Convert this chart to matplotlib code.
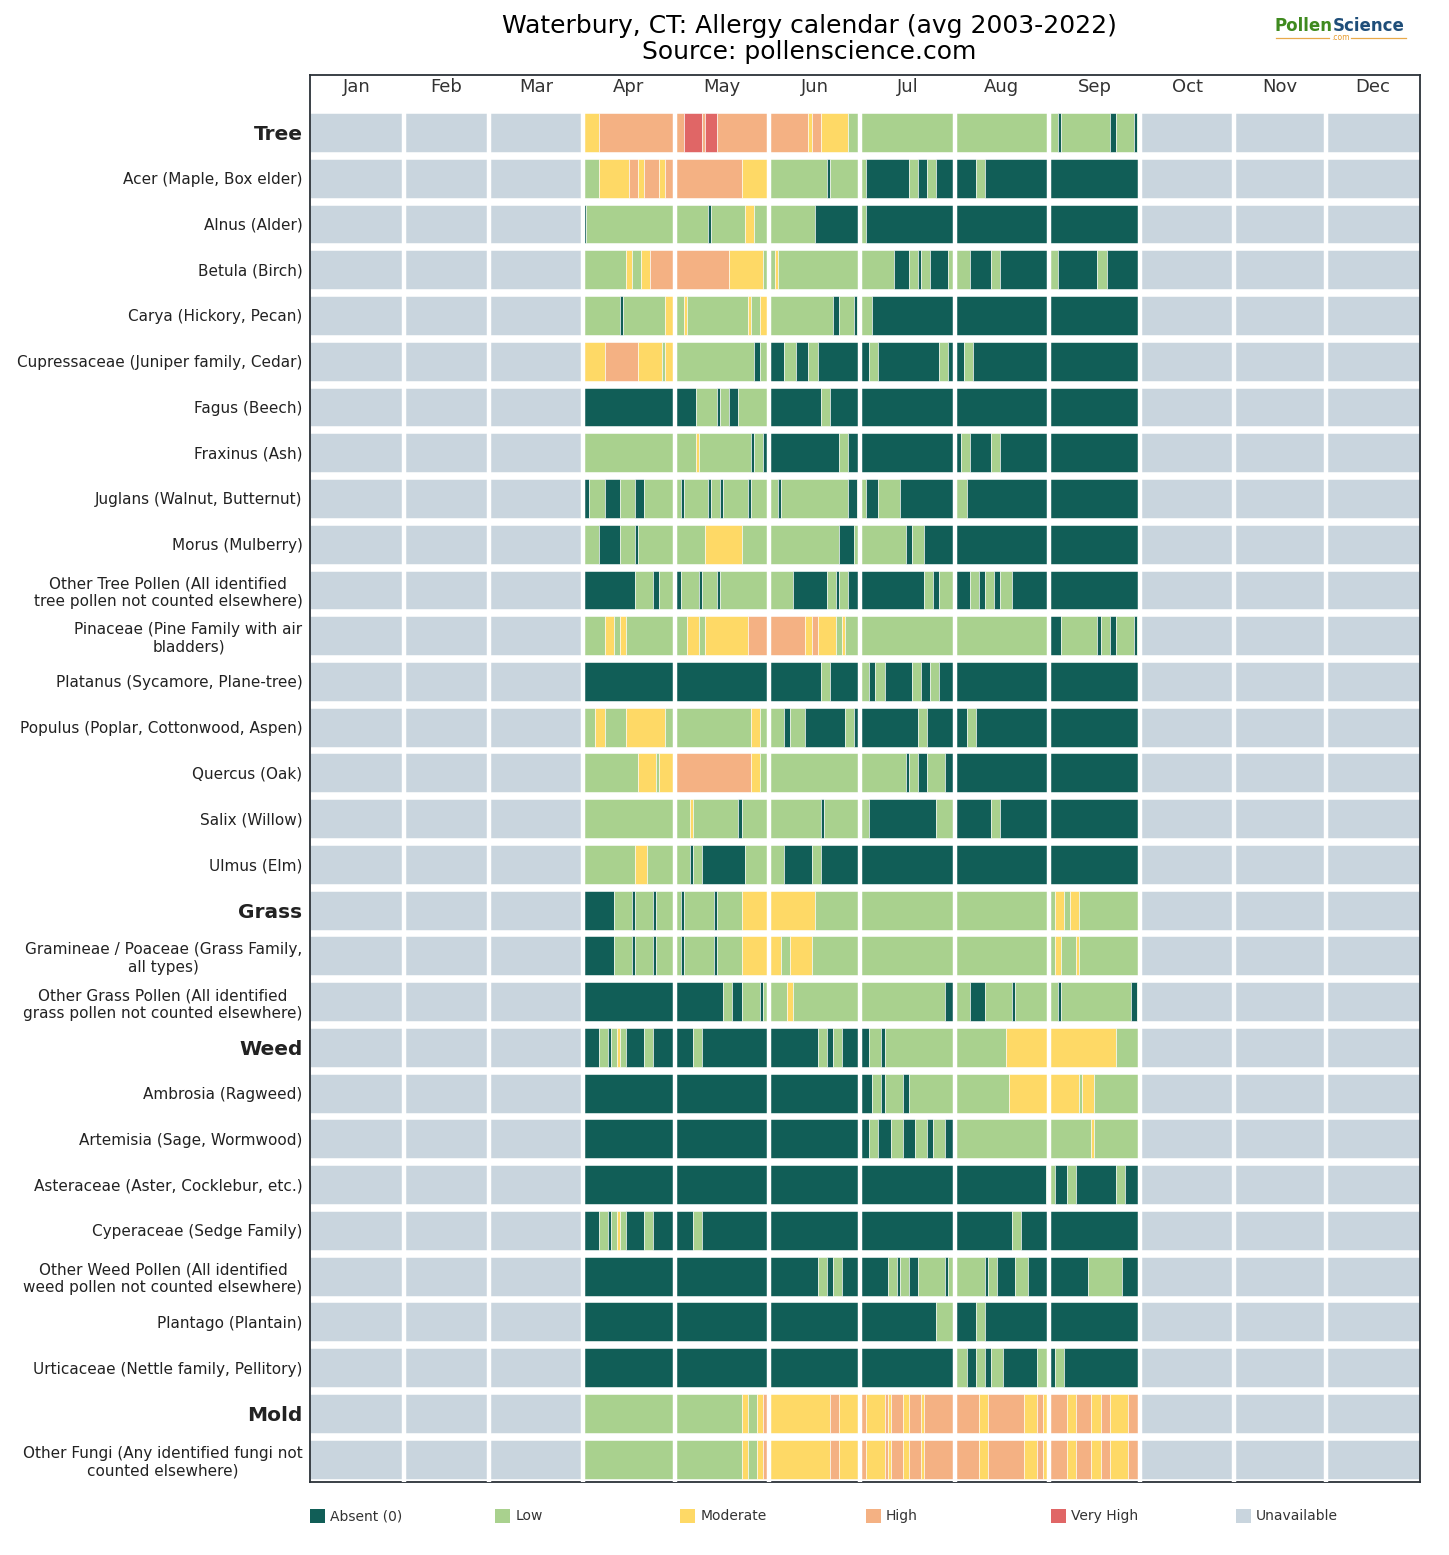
import matplotlib.pyplot as plt
from matplotlib.patches import Rectangle
from matplotlib.lines import Line2D

months = ['Jan', 'Feb', 'Mar', 'Apr', 'May', 'Jun', 'Jul', 'Aug', 'Sep', 'Oct', 'Nov', 'Dec']
month_days = [31, 28, 31, 30, 31, 30, 31, 31, 30, 31, 30, 31]

level_names = ['Absent (0)', 'Low', 'Moderate', 'High', 'Very High', 'Unavailable']
level_colors = ['#115e57', '#a9d18e', '#fed966', '#f4b183', '#e06666', '#c9d5de']
level_codes = 'ALMHVU'

row_labels = [
    'Tree', 'Acer (Maple, Box elder)', 'Alnus (Alder)', 'Betula (Birch)',
    'Carya (Hickory, Pecan)', 'Cupressaceae (Juniper family, Cedar)', 'Fagus (Beech)',
    'Fraxinus (Ash)', 'Juglans (Walnut, Butternut)', 'Morus (Mulberry)',
    'Other Tree Pollen (All identified\ntree pollen not counted elsewhere)',
    'Pinaceae (Pine Family with air\nbladders)', 'Platanus (Sycamore, Plane-tree)',
    'Populus (Poplar, Cottonwood, Aspen)', 'Quercus (Oak)', 'Salix (Willow)', 'Ulmus (Elm)',
    'Grass', 'Gramineae / Poaceae (Grass Family,\nall types)',
    'Other Grass Pollen (All identified\ngrass pollen not counted elsewhere)',
    'Weed', 'Ambrosia (Ragweed)', 'Artemisia (Sage, Wormwood)',
    'Asteraceae (Aster, Cocklebur, etc.)', 'Cyperaceae (Sedge Family)',
    'Other Weed Pollen (All identified\nweed pollen not counted elsewhere)',
    'Plantago (Plantain)', 'Urticaceae (Nettle family, Pellitory)',
    'Mold', 'Other Fungi (Any identified fungi not\ncounted elsewhere)',
]
group_labels = ['Tree', 'Grass', 'Weed', 'Mold']

# Apr | May | Jun | Jul | Aug | Sep : level code + first day of the run within the month
tree_rows = [
    "M0 H5 | H0 V3 H9 V10 H14 | H0 M13 H14 M17 L26 | L0 | L0 | L0 A3 L4 A20 L22 A28 L29",
    "L0 M5 H15 M18 H20 M25 H27 | H0 M22 | L0 A19 L20 | L0 A2 L16 A19 L22 A25 | A0 L7 A10 | A0",
    "A0 L1 | L0 A11 L12 M23 L26 | L0 A15 | L0 A2 | A0 | A0",
    "L0 M14 L16 M19 H22 | H0 M18 L29 | L0 M2 L3 | L0 A11 L16 A19 L20 A23 L29 | L0 A5 L12 A15 | L0 A3 L16 A19",
    "L0 A12 L13 M27 | L0 M3 L4 M24 L25 M28 | L0 A21 L23 A28 L29 | L0 A4 | A0 | A0",
    "M0 H7 M18 L26 M27 | L0 A26 L28 | A0 L5 A9 L13 A16 | A0 L3 A6 L26 A29 | A0 L3 A6 | A0",
    "A0 | A0 L7 A14 L15 A18 L21 | A0 L17 A20 | A0 | A0 | A0",
    "L0 | L0 M7 L8 A25 L26 A29 | A0 L23 A26 | A0 | A0 L2 A5 L12 A15 | A0",
    "A0 L2 A7 L12 A17 L20 | L0 A2 L3 A11 L12 A15 L16 A24 L25 | L0 A3 L4 A26 L29 | L0 A2 L6 A13 | L0 A4 | A0",
    "L0 A5 L12 A17 L18 | L0 M10 L22 | L0 A23 L28 | L0 A15 L17 A21 | A0 | A0",
    "A0 L17 A23 L25 | A0 L2 A8 L9 A14 L15 | L0 A8 L19 A22 L23 A26 | A0 L21 A24 L26 | A0 L5 A8 L10 A13 L15 A19 | A0",
    "L0 M7 L10 M12 L14 | L0 M4 L8 M10 H24 | H0 M12 H14 M16 L22 M24 L25 | L0 | L0 | A0 L4 A16 L17 A20 L22 A28 L29",
    "A0 | A0 | A0 L17 A20 | L0 A3 L5 A8 L17 A20 L23 A26 | A0 | A0",
    "L0 M4 L7 M14 L27 | L0 M25 L28 | L0 A5 L7 A12 L25 A28 | A0 L19 A22 | A0 L4 A7 | A0",
    "L0 M18 L24 M25 | H0 M25 L28 | L0 | L0 A15 L16 A19 L22 A28 | A0 | A0",
    "L0 | L0 M5 L6 A21 L22 | L0 A17 L18 | L0 A3 L25 | A0 L12 A15 | A0",
    "L0 M17 L21 | L0 A5 L6 A9 L23 | L0 A5 L14 A17 | A0 | A0 | A0",
]
grass_rows = [
    "A0 L10 A16 L17 A23 L24 | L0 A2 L3 A13 L14 M22 | M0 L15 | L0 | L0 | L0 M2 L5 M7 L10",
    "A0 L10 A16 L17 A23 L24 | L0 A2 L3 A13 L14 M22 | M0 L4 M7 L14 | L0 | L0 | L0 M2 L4 M9 L10",
    "A0 | A0 L16 A19 L22 A28 L29 | L0 M6 L8 | L0 A28 | L0 A5 L10 A19 L20 | L0 A3 L4 A27 L29",
]
weed_rows = [
    "A0 L5 A8 L9 M11 L12 A14 L20 A23 | A0 L6 A9 | A0 L16 A19 L21 A24 | A0 L3 A7 L8 | L0 M17 | M0 L22",
    "A0 | A0 | A0 | A0 L4 A7 L8 A14 L16 | L0 M18 | M0 L10 M11 L15",
    "A0 | A0 | A0 | A0 L3 A6 L10 A14 L18 A22 L24 A28 | L0 | L0 M14 L15",
    "A0 | A0 | A0 | A0 | A0 L30 | L0 A2 L6 A9 L22 A25",
    "A0 L5 A8 L9 M11 L12 A14 L20 A23 | A0 L6 A9 | A0 | A0 | A0 L19 A22 | A0",
    "A0 | A0 | A0 L16 A19 L21 A24 | A0 L9 A12 L13 A16 L19 A28 L29 | L0 A10 L11 A14 L20 A24 | A0 L13 A24",
    "A0 | A0 | A0 | A0 L25 | A0 L7 A10 | A0",
    "A0 | A0 | A0 | A0 | L0 A4 L7 A10 L12 A16 L27 | A0 L2 A5",
]
mold_rows = [
    "L0 | L0 M22 L24 M27 H29 | M0 H20 M23 | H0 M2 H8 M9 H10 M14 H16 M20 H21 | H0 M8 H11 M23 H27 M29 | H0 M6 H9 M14 H17 M20 H26",
    "L0 | L0 M22 L24 M27 H29 | M0 H20 M23 | H0 M2 H8 M9 H10 M14 H16 M20 H21 | H0 M8 H11 M23 H27 M29 | H0 M6 H9 M14 H17 M20 H26",
]

all_rows = tree_rows + grass_rows + weed_rows + mold_rows

month_start = [sum(month_days[:i]) for i in range(12)]
year_days = sum(month_days)

fig = plt.figure(figsize=(14.49, 15.55), dpi=100)
ax = fig.add_axes([309.5 / 1449, 1 - 1482 / 1555, 1110.5 / 1449, 1407 / 1555])

bar_h = 0.85
for r, row in enumerate(all_rows):
    # months without data
    for m in [0, 1, 2, 9, 10, 11]:
        ax.barh(r, month_days[m], left=month_start[m], height=bar_h,
                color=level_colors[5], edgecolor='white', linewidth=0.4)
    chunks = row.split('|')
    for k, chunk in enumerate(chunks):
        m = 3 + k
        runs = [(level_codes.index(t[0]), int(t[1:])) for t in chunk.split()]
        for j, (lev, start) in enumerate(runs):
            end = runs[j + 1][1] if j + 1 < len(runs) else month_days[m]
            ax.barh(r, end - start, left=month_start[m] + start, height=bar_h,
                    color=level_colors[lev], edgecolor='white', linewidth=0.4)

# white gaps between months
ax.vlines(month_start[1:], -0.5, len(all_rows) - 0.5, colors='white', linewidth=3.2, zorder=5)

for m, name in enumerate(months):
    ax.text(month_start[m] + month_days[m] / 2, -1.0, name, ha='center', va='center',
            fontsize=13, color='#333333')

ax.set_xlim(0, year_days)
ax.set_ylim(len(all_rows) - 0.5, -1.257)
ax.set_xticks([])
ax.set_yticks(range(len(all_rows)))
ax.set_yticklabels(row_labels)
ax.tick_params(axis='y', length=0, pad=5)
for lab in ax.get_yticklabels():
    lab.set_multialignment('center')
    lab.set_color('#222222')
    if lab.get_text() in group_labels:
        lab.set_fontsize(14.5)
        lab.set_fontweight('bold')
    else:
        lab.set_fontsize(11)
for s in ax.spines.values():
    s.set_color('#2b3238')
    s.set_linewidth(1.3)

fig.text(809.5 / 1449, 1 - 39 / 1555,
         'Waterbury, CT: Allergy calendar (avg 2003-2022)\nSource: pollenscience.com',
         ha='center', va='center', fontsize=18, linespacing=1.1)

# logo
fig.text(1333 / 1449, 1 - 26 / 1555, 'Pollen', ha='right', va='center', fontsize=12,
         fontweight='bold', color='#3f8a1f')
fig.text(1333 / 1449, 1 - 26 / 1555, 'Science', ha='left', va='center', fontsize=12,
         fontweight='bold', color='#1f4e79')
fig.text(1340 / 1449, 1 - 37.5 / 1555, '.com', ha='center', va='center', fontsize=5.5,
         color='#e69a2e')
for x0, x1 in [(1276, 1329), (1351, 1406)]:
    fig.add_artist(Line2D([x0 / 1449, x1 / 1449], [1 - 37.5 / 1555] * 2, color='#e8a94a',
                          linewidth=0.9))

# legend
for i, (name, col) in enumerate(zip(level_names, level_colors)):
    x = 310 + 185.2 * i
    fig.add_artist(Rectangle((x / 1449, 1 - 1523 / 1555), 15 / 1449, 14 / 1555,
                             facecolor=col, edgecolor='none'))
    fig.text((x + 20) / 1449, 1 - 1516 / 1555, name, ha='left', va='center',
             fontsize=10, color='#333333')

fig.savefig('out.png', dpi=100)
